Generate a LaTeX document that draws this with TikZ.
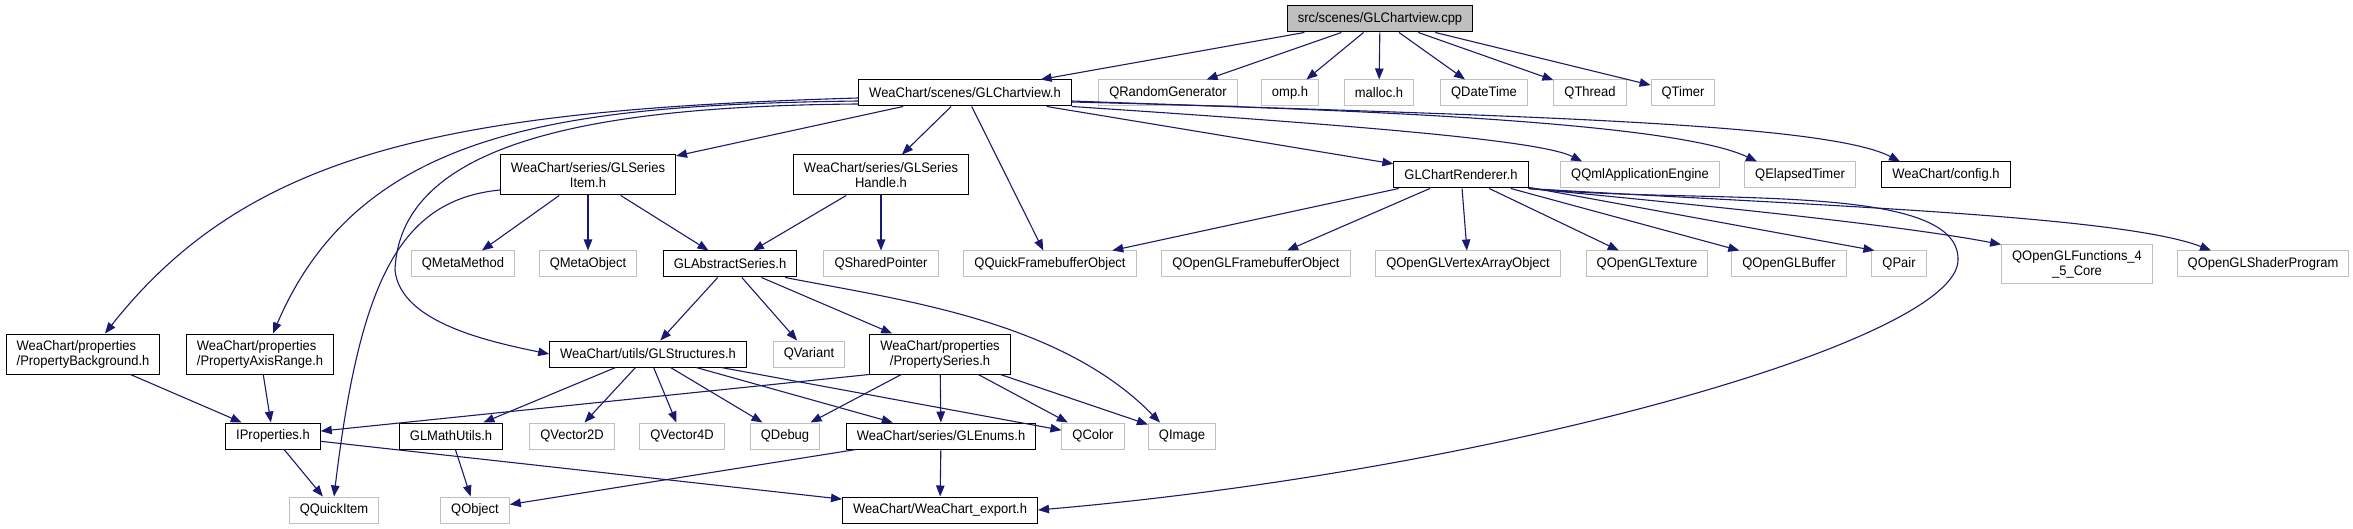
\documentclass[tikz,border=0pt]{standalone}
\usepackage{fontspec}
\setmainfont[FakeStretch=0.94]{Liberation Sans}
\usetikzlibrary{arrows.meta}
\definecolor{edgeblue}{HTML}{191970}
\definecolor{extgray}{HTML}{BFBFBF}

\begin{document}
\begin{tikzpicture}[
  x=1pt, y=-1pt,
  hdr/.style={draw=black, fill=white, line width=1pt, inner xsep=10.5pt, inner ysep=0pt,
              minimum height=26pt, align=center, font=\fontsize{13.8}{15}\selectfont},
  extfile/.style={hdr, draw=extgray},
  rootfile/.style={hdr, fill=extgray},
  twoline/.style={minimum height=40pt},
  arr/.style={-{Triangle[length=11pt,width=8.5pt]}, line width=1.1pt, edgeblue}
]
\useasboundingbox (0,0) rectangle (2353,529);

% row 0 and 1
\node[rootfile] (cpp) at (1380,19) {src/scenes/GLChartview.cpp};
\node[hdr] (view) at (965,93) {WeaChart/scenes/GLChartview.h};
\node[extfile] (rnd) at (1168,93) {QRandomGenerator};
\node[extfile] (omp) at (1290,93) {omp.h};
\node[extfile] (malloc) at (1379,93) {malloc.h};
\node[extfile] (datetime) at (1484,93) {QDateTime};
\node[extfile] (thread) at (1590,93) {QThread};
\node[extfile] (timer) at (1683,93) {QTimer};

% row 2
\node[hdr, twoline] (sitem) at (588,175) {WeaChart/series/GLSeries\\Item.h};
\node[hdr, twoline] (shandle) at (881,175) {WeaChart/series/GLSeries\\Handle.h};
\node[hdr] (renderer) at (1461,175) {GLChartRenderer.h};
\node[extfile] (qml) at (1640,175) {QQmlApplicationEngine};
\node[extfile] (elapsed) at (1800,175) {QElapsedTimer};
\node[hdr] (config) at (1946,175) {WeaChart/config.h};

% row 3
\node[extfile] (metamethod) at (463,264) {QMetaMethod};
\node[extfile] (metaobject) at (588,264) {QMetaObject};
\node[hdr] (abseries) at (730,264) {GLAbstractSeries.h};
\node[extfile] (sharedptr) at (881,264) {QSharedPointer};
\node[extfile] (qqfbo) at (1050,264) {QQuickFramebufferObject};
\node[extfile] (glfbo) at (1256,264) {QOpenGLFramebufferObject};
\node[extfile] (glvao) at (1468,264) {QOpenGLVertexArrayObject};
\node[extfile] (gltex) at (1647,264) {QOpenGLTexture};
\node[extfile] (glbuf) at (1789,264) {QOpenGLBuffer};
\node[extfile] (qpair) at (1899,264) {QPair};
\node[extfile, minimum height=39pt] (glfunc) at (2077,264.5) {QOpenGLFunctions\_4\\\_5\_Core};
\node[extfile] (glshader) at (2263,264) {QOpenGLShaderProgram};

% row 4
\node[hdr, twoline, align=left] (pbg) at (83,354) {WeaChart/properties\\/PropertyBackground.h};
\node[hdr, twoline, align=left] (paxis) at (260,354) {WeaChart/properties\\/PropertyAxisRange.h};
\node[hdr] (structs) at (648,354) {WeaChart/utils/GLStructures.h};
\node[extfile] (qvariant) at (809,354) {QVariant};
\node[hdr, twoline] (pseries) at (940,354) {WeaChart/properties\\/PropertySeries.h};

% row 5
\node[hdr] (iprops) at (273,436) {IProperties.h};
\node[hdr] (mathutils) at (451,436) {GLMathUtils.h};
\node[extfile] (vec2d) at (572,436) {QVector2D};
\node[extfile] (vec4d) at (682,436) {QVector4D};
\node[extfile] (qdebug) at (785,436) {QDebug};
\node[hdr] (enums) at (941,436) {WeaChart/series/GLEnums.h};
\node[extfile] (qcolor) at (1093,436) {QColor};
\node[extfile] (qimage) at (1182,436) {QImage};

% row 6
\node[extfile] (quickitem) at (334,510) {QQuickItem};
\node[extfile] (qobject) at (475,510) {QObject};
\node[hdr] (export) at (940,510) {WeaChart/WeaChart\_export.h};

% straight includes
\foreach \a/\b in {cpp/view,cpp/rnd,cpp/omp,cpp/malloc,cpp/datetime,cpp/thread,cpp/timer,
    view/sitem,view/shandle,view/qqfbo,view/renderer,
    sitem/metamethod,sitem/metaobject,sitem/abseries,shandle/abseries,shandle/sharedptr,
    renderer/qqfbo,renderer/glfbo,renderer/glvao,renderer/gltex,renderer/glbuf,
    abseries/structs,abseries/qvariant,abseries/pseries,
    structs/mathutils,structs/vec2d,structs/vec4d,structs/qdebug,structs/enums,structs/qcolor,
    pseries/qdebug,pseries/enums,pseries/qcolor,pseries/qimage,pseries.south west/iprops,
    pbg/iprops,paxis/iprops,iprops/quickitem,iprops/export,
    mathutils/qobject,enums/qobject,enums/export}
  \draw[arr] (\a) -- (\b);
\draw[arr] (renderer) -- ([xshift=3pt]qpair.north west);

% curved includes
\draw[arr] (view.south east) .. controls (1350,125) and (1540,140) .. ([xshift=22pt]qml.north west);
\draw[arr] ([yshift=-9pt]view.east) .. controls (1400,110) and (1680,125) .. ([xshift=-43pt]elapsed.north);
\draw[arr] ([yshift=-8pt]view.east) .. controls (1450,115) and (1820,120) .. ([xshift=-46pt]config.north);
\draw[arr] ([yshift=-5pt]view.west) .. controls (450,110) and (250,150) .. ([xshift=22pt]pbg.north);
\draw[arr] ([yshift=-8pt]view.west) .. controls (560,105) and (360,130) .. ([xshift=13pt]paxis.north);
\draw[arr] ([yshift=-11pt]view.west) .. controls (600,106) and (400,140) .. (395,270)
  .. controls (400,320) and (480,340) .. (structs.west);
\draw[arr] ([yshift=-15pt]sitem.west) .. controls (400,200) and (360,280) .. (quickitem.north);
\draw[arr] ([xshift=-12pt]abseries.south east) .. controls (900,300) and (1060,320) .. ([xshift=-22pt]qimage.north);
\draw[arr] (renderer.south east) .. controls (1700,205) and (1900,225) .. (glfunc.north west);
\draw[arr] (renderer.south east) .. controls (1800,205) and (2120,215) .. ([xshift=-52pt]glshader.north);
\draw[arr] (renderer.south east) .. controls (1700,205) and (1960,180) .. (1958,260)
  .. controls (1958,340) and (1500,470) .. (export.east);
\end{tikzpicture}
\end{document}
